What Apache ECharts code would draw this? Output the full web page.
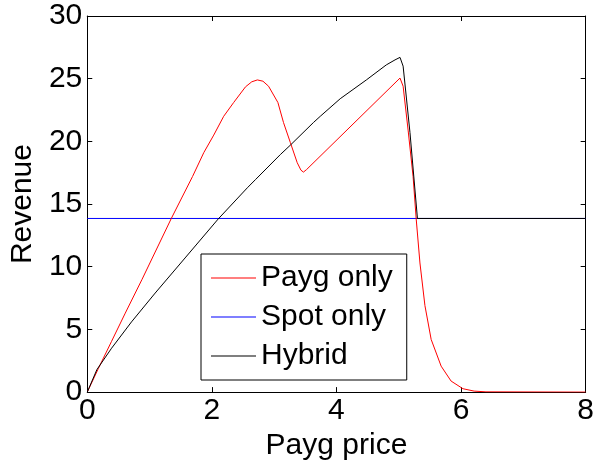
<!DOCTYPE html>
<html>
<head>
<meta charset="utf-8">
<script src="https://cdn.jsdelivr.net/npm/echarts@6/dist/echarts.min.js"></script>
<style>html,body{margin:0;padding:0;background:#fff}#c{width:597px;height:466px}</style>
</head>
<body>
<div id="c"></div>
<script>
var xTicks = [0, 2, 4, 6, 8];
var yTicks = [0, 5, 10, 15, 20, 25, 30];

var paygX = [0, 0.18, 0.39, 0.61, 0.88, 1.35, 1.69, 1.87, 2.03, 2.19, 2.35, 2.54, 2.64, 2.73, 2.82, 2.91, 3.06, 3.15, 3.26, 3.37, 3.43, 3.47, 3.52, 5.02, 5.07, 5.15, 5.23, 5.28, 5.34, 5.42, 5.52, 5.68, 5.84, 6.03, 6.21, 6.4, 8.0];
var paygY = [0, 1.9, 4.05, 6.3, 9.0, 13.86, 17.2, 19.1, 20.5, 22.0, 23.1, 24.35, 24.75, 24.9, 24.8, 24.4, 23.1, 21.5, 19.9, 18.3, 17.7, 17.55, 17.75, 25.05, 24.4, 20.9, 17.2, 13.8, 10.3, 6.9, 4.2, 2.07, 0.88, 0.27, 0.08, 0.02, 0];

var spotX = [0, 8];
var spotY = [13.85, 13.85];

var hybridX = [0, 0.155, 0.39, 0.71, 1.09, 1.57, 2.10, 2.57, 2.70, 3.10, 3.26, 3.63, 3.74, 4.06, 4.48, 4.80, 4.94, 5.02, 5.07, 5.18, 5.30, 8.0];
var hybridY = [0, 1.8, 3.5, 5.6, 7.9, 10.7, 13.8, 16.3, 16.95, 18.95, 19.7, 21.5, 22.0, 23.4, 24.9, 26.1, 26.5, 26.7, 26.0, 20.7, 13.85, 13.85];

function zip(xs, ys) { return xs.map(function (x, i) { return [x, ys[i]]; }); }

var FONT = '"Liberation Sans", Arial, Helvetica, sans-serif';
var chart = echarts.init(document.getElementById('c'), null, {renderer: 'canvas'});
var axisLine = {show: true, onZero: false, lineStyle: {color: '#000', width: 1}};
var tick = {show: true, inside: true, length: 5, lineStyle: {color: '#000', width: 1}};
chart.setOption({
  animation: false,
  backgroundColor: '#fff',
  grid: {left: 86, right: 10, top: 16, bottom: 73, containLabel: false},
  legend: {
    orient: 'vertical',
    left: 201, top: 254,
    backgroundColor: '#fff',
    borderColor: '#000', borderWidth: 1, borderRadius: 0,
    padding: [9, 14, 9, 10],
    itemGap: 9,
    itemWidth: 45, itemHeight: 1,
    icon: 'rect',
    textStyle: {fontFamily: FONT, fontSize: 30, color: '#000'},
    data: ['Payg only', 'Spot only', 'Hybrid']
  },
  xAxis: [{
    type: 'value', min: 0, max: 8, interval: 2,
    name: 'Payg price', nameLocation: 'middle', nameGap: 35,
    nameTextStyle: {fontFamily: FONT, fontSize: 30, color: '#000'},
    axisLine: axisLine, axisTick: tick,
    axisLabel: {fontFamily: FONT, fontSize: 30, color: '#000', margin: 4,
      formatter: function (v) { return xTicks.indexOf(v) >= 0 ? String(v) : ''; }},
    splitLine: {show: false}
  }, {
    type: 'value', position: 'top', min: 0, max: 8, interval: 2,
    axisLine: axisLine, axisTick: tick, axisLabel: {show: false}, splitLine: {show: false}
  }],
  yAxis: [{
    type: 'value', min: 0, max: 30, interval: 5,
    name: 'Revenue', nameLocation: 'middle', nameGap: 46,
    nameTextStyle: {fontFamily: FONT, fontSize: 30, color: '#000'},
    axisLine: axisLine, axisTick: tick,
    axisLabel: {fontFamily: FONT, fontSize: 30, color: '#000', margin: 5,
      formatter: function (v) { return yTicks.indexOf(v) >= 0 ? String(v) : ''; }},
    splitLine: {show: false}
  }, {
    type: 'value', position: 'right', min: 0, max: 30, interval: 5,
    axisLine: axisLine, axisTick: tick, axisLabel: {show: false}, splitLine: {show: false}
  }],
  series: [
    {name: 'Payg only', type: 'line', data: zip(paygX, paygY), showSymbol: false, symbol: 'none',
     lineStyle: {color: '#ff0000', width: 1}, itemStyle: {color: '#ff0000'}, z: 3},
    {name: 'Spot only', type: 'line', data: zip(spotX, spotY), showSymbol: false, symbol: 'none',
     lineStyle: {color: '#0000ff', width: 1}, itemStyle: {color: '#0000ff'}, z: 2},
    {name: 'Hybrid', type: 'line', data: zip(hybridX, hybridY), showSymbol: false, symbol: 'none',
     lineStyle: {color: '#000', width: 1}, itemStyle: {color: '#000'}, z: 4}
  ]
});
</script>
</body>
</html>
